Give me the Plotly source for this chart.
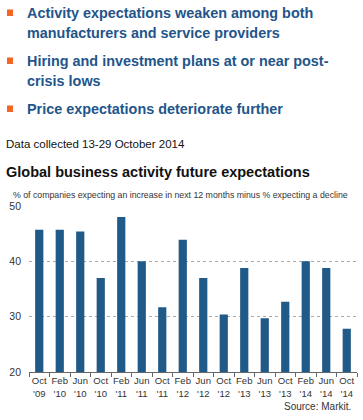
import plotly.graph_objects as go

categories = ["Oct<br>'09", "Feb<br>'10", "Jun<br>'10", "Oct<br>'10", "Feb<br>'11", "Jun<br>'11",
              "Oct<br>'11", "Feb<br>'12", "Jun<br>'12", "Oct<br>'12", "Feb<br>'13", "Jun<br>'13",
              "Oct<br>'13", "Feb<br>'14", "Jun<br>'14", "Oct<br>'14"]
values = [45.7, 45.7, 45.4, 37.0, 48.0, 40.0, 31.7, 43.9, 37.0, 30.4, 38.8, 29.7, 32.7, 40.0, 38.8, 27.8]
y_ticks = [20, 30, 40, 50]

bullets = [
    ("Activity expectations weaken among both", 13),
    ("manufacturers and service providers", 33),
    ("Hiring and investment plans at or near post-", 61),
    ("crisis lows", 81),
    ("Price expectations deteriorate further", 109),
]
bullet_marks = [13, 61, 109]

W, H = 363, 420
L, R, T, B = 29, 6, 206, 48
PW, PH = W - L - R, H - T - B

def px(x):
    return (x - L) / PW

def py(y):
    return (H - B - y) / PH

fig = go.Figure(go.Bar(x=categories, y=values, marker_color="#1F5A88",
                       marker_line_width=0, width=0.4))

ann = []
for text, y in bullets:
    ann.append(dict(text=text, x=px(25), y=py(y), xref="paper", yref="paper",
                    xanchor="left", yanchor="middle", showarrow=False,
                    font=dict(family="Liberation Sans", size=14.4, color="#23558A",
                              weight="bold")))
ann.append(dict(text="Data collected 13-29 October 2014", x=px(4), y=py(144),
                xref="paper", yref="paper", xanchor="left", yanchor="middle",
                showarrow=False, font=dict(family="Liberation Sans", size=11.5, color="#111")))
ann.append(dict(text="Global business activity future expectations", x=px(4), y=py(171.5),
                xref="paper", yref="paper", xanchor="left", yanchor="middle",
                showarrow=False, font=dict(family="Liberation Sans", size=14.5, color="#111",
                                           weight="bold")))
ann.append(dict(text="% of companies expecting an increase in next 12 months minus % expecting a decline",
                x=px(11), y=py(194.5), xref="paper", yref="paper", xanchor="left",
                yanchor="middle", showarrow=False,
                font=dict(family="Liberation Sans", size=8.75, color="#333")))
ann.append(dict(text="Source: Markit.", x=px(353), y=py(406), xref="paper", yref="paper",
                xanchor="right", yanchor="middle", showarrow=False,
                font=dict(family="Liberation Sans", size=10, color="#333")))

shapes = []
for y in bullet_marks:
    shapes.append(dict(type="rect", xref="paper", yref="paper",
                       x0=px(7), x1=px(13), y0=py(y - 3.5), y1=py(y + 3),
                       fillcolor="#F26522", line_width=0))

fig.update_layout(
    width=W, height=H, margin=dict(l=L, r=R, t=T, b=B, autoexpand=False),
    paper_bgcolor="white", plot_bgcolor="white", showlegend=False,
    annotations=ann, shapes=shapes,
    font=dict(family="Liberation Sans", color="#333"),
    xaxis=dict(showline=True, linecolor="#666", linewidth=1, ticks="outside",
               tickson="boundaries", ticklen=4, tickcolor="#666", showgrid=False,
               tickangle=0, automargin=False,
               tickfont=dict(size=9.5, color="#333"), range=[-0.5, 15.5]),
    yaxis=dict(range=[20, 50], tickvals=y_ticks, showgrid=True, gridcolor="#aaa",
               griddash="dot", gridwidth=1, zeroline=False, showline=False,
               automargin=False,
               tickfont=dict(size=10.5, color="#333"), ticklabelstandoff=7),
)

fig.write_html("out.html", config={"displayModeBar": False},
               post_script="document.body.style.margin='0';document.body.style.overflow='hidden';")
